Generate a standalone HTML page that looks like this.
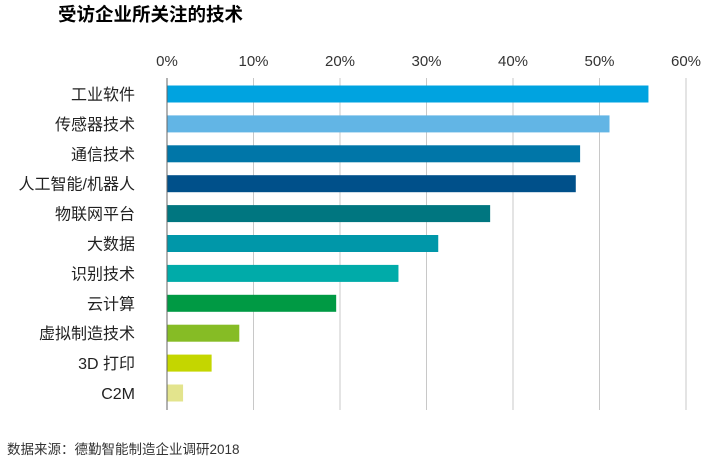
<!DOCTYPE html>
<html><head><meta charset="utf-8"><style>
html,body{margin:0;padding:0;background:#fff;}
body{width:727px;height:463px;overflow:hidden;font-family:"Liberation Sans","Noto Sans CJK SC",sans-serif;}
</style></head><body>
<svg id="chart" width="727" height="463" xmlns="http://www.w3.org/2000/svg">
<text x="58" y="21" font-size="18.5" font-weight="bold" fill="#000" font-family="'Liberation Sans','Noto Sans CJK SC',sans-serif">受访企业所关注的技术</text>
<g id="grid"></g><g id="bars"></g><g id="labels"></g>
<text x="7" y="454" font-size="13.5" fill="#333" font-family="'Liberation Sans','Noto Sans CJK SC',sans-serif">数据来源：德勤智能制造企业调研2018</text>
</svg>
<script>
const categories=["工业软件","传感器技术","通信技术","人工智能/机器人","物联网平台","大数据","识别技术","云计算","虚拟制造技术","3D 打印","C2M"];
const values=[55.6,51.1,47.7,47.2,37.3,31.3,26.7,19.5,8.3,5.1,1.8];
const colors=["#00a3e0","#62b5e5","#0076a8","#00508a","#007680","#0097a9","#00aba9","#009a44","#86bc25","#c4d600","#e3e48d"];
const ticks=[0,10,20,30,40,50,60];
const NS="http://www.w3.org/2000/svg";
const x0=167,x1=686,yTop=78,yBot=410,row0=94,rowH=29.9,barH=17;
const xs=v=>x0+(v/60)*(x1-x0);
const ys=i=>row0+i*rowH;
function mk(t,a){const e=document.createElementNS(NS,t);for(const k in a)e.setAttribute(k,a[k]);return e;}
const g=document.getElementById('grid'),b=document.getElementById('bars'),l=document.getElementById('labels');
ticks.forEach(t=>{
 const ln=mk('line',{x1:xs(t),x2:xs(t),y1:yTop,y2:yBot,stroke:t===0?'#666':'#c8c8c8','stroke-width':1});
 
 
 g.appendChild(ln);
 const tx=mk('text',{x:xs(t),y:66,'font-size':15,fill:'#333','text-anchor':'middle'});
 tx.textContent=t+'%';
 
 
 g.appendChild(tx);
});
categories.forEach((c,i)=>{
 const r=mk('rect',{x:x0+0.5,y:ys(i)-barH/2,width:xs(values[i])-x0,height:barH,fill:colors[i]});
 
 
 b.appendChild(r);
 const tx=mk('text',{x:135,y:ys(i)+6,'font-size':16,fill:'#222','text-anchor':'end'});
 tx.textContent=c;
 
 
 l.appendChild(tx);
});
</script>
</body></html>
